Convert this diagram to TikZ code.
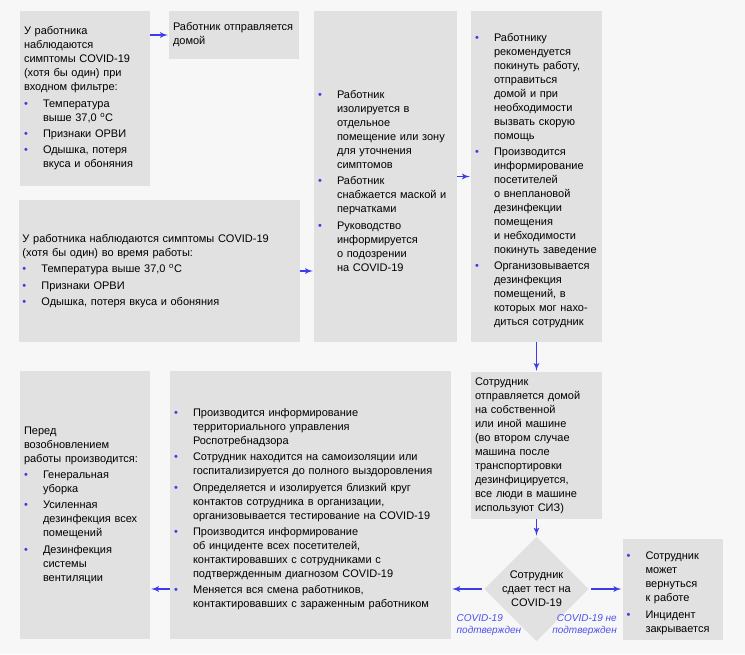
\documentclass[tikz,border=0pt]{standalone}
\usepackage{fontspec}
\setmainfont{Liberation Sans}
\usepackage{tikz}
\usetikzlibrary{shapes,arrows}

\definecolor{boxgray}{HTML}{E1E1E1}
\definecolor{pagegray}{HTML}{F7F7F7}
\definecolor{arrowblue}{HTML}{3C3CEB}
\definecolor{labelblue}{HTML}{5050F0}

\newcommand{\itm}[1]{\par\vspace{2.4pt}\leftskip=19pt\noindent\llap{\makebox[19pt][l]{\textcolor{arrowblue}{\textbullet}}}#1\par}

\begin{document}
\begin{tikzpicture}[
  x=1pt, y=1pt,
  block/.style={rectangle, fill=boxgray, align=left, inner xsep=4pt, inner ysep=2pt, font=\fontsize{11}{14}\selectfont},
  decision/.style={diamond, fill=boxgray, align=center, inner sep=0pt, minimum width=102pt, minimum height=80pt, font=\fontsize{11}{14}\selectfont},
  note/.style={align=left, text=labelblue, inner sep=0pt, font=\fontsize{10}{12.7}\selectfont\itshape},
  line/.style={draw=arrowblue, line width=1.7pt, -latex', shorten >=1pt}
]

\fill[pagegray] (0,0) rectangle (745,-654);
\useasboundingbox (0,0) rectangle (745,-654);

\node [block, text width=122pt, minimum width=130pt, minimum height=175pt] (entry) at (85,-98.5) {%
  У работника\\наблюдаются\\симптомы COVID-19\\(хотя бы один) при\\входном фильтре:
  \itm{Температура\\выше 37,0 \textsuperscript{o}C}
  \itm{Признаки ОРВИ}
  \itm{Одышка, потеря\\вкуса и обоняния}};
\node [block, text width=122pt, minimum width=130pt, minimum height=48pt] (home) at (234,-35) {%
  Работник отправляется\\домой};
\node [block, text width=135pt, minimum width=143pt, minimum height=331pt] (isolate) at (385.5,-176.5) {%
  \itm{Работник\\изолируется в\\отдельное\\помещение или зону\\для уточнения\\симптомов}
  \itm{Работник\\снабжается маской и\\перчатками}
  \itm{Руководство\\информируется\\о подозрении\\на COVID-19}};
\node [block, text width=123pt, minimum width=131pt, minimum height=331pt, right of=isolate, node distance=151pt] (leave) {%
  \itm{Работнику\\рекомендуется\\покинуть работу,\\отправиться\\домой и при\\необходимости\\вызвать скорую\\помощь}
  \itm{Производится\\информирование\\посетителей\\о внеплановой\\дезинфекции\\помещения\\и небходимости\\покинуть заведение}
  \itm{Организовывается\\дезинфекция\\помещений, в\\которых мог нахо-\\диться сотрудник}};
\node [block, text width=273pt, minimum width=281pt, minimum height=142pt] (atwork) at (159,-271) {%
  У работника наблюдаются симптомы COVID-19\\(хотя бы один) во время работы:
  \itm{Температура выше 37,0 \textsuperscript{o}C}
  \itm{Признаки ОРВИ}
  \itm{Одышка, потеря вкуса и обоняния}};
\node [block, text width=123pt, minimum width=131pt, minimum height=147pt, below of=leave, node distance=269pt] (car) {%
  Сотрудник\\отправляется домой\\на собственной\\или иной машине\\(во втором случае\\машина после\\транспортировки\\дезинфицируется,\\все люди в машине\\используют СИЗ)};
\node [decision, below of=car, node distance=143.5pt] (test) {Сотрудник\\сдает тест на\\COVID-19};
\node [block, text width=92pt, minimum width=100pt, minimum height=101pt, right of=test, node distance=136pt] (clear) {%
  \itm{Сотрудник\\может\\вернуться\\к работе}
  \itm{Инцидент\\закрывается}};
\node [block, text width=273pt, minimum width=281pt, minimum height=268pt] (measures) at (310.5,-505) {%
  \itm{Производится информирование\\территориального управления\\Роспотребнадзора}
  \itm{Сотрудник находится на самоизоляции или\\госпитализируется до полного выздоровления}
  \itm{Определяется и изолируется близкий круг\\контактов сотрудника в организации,\\организовывается тестирование на COVID-19}
  \itm{Производится информирование\\об инциденте всех посетителей,\\контактировавших с сотрудниками с\\подтвержденным диагнозом COVID-19}
  \itm{Меняется вся смена работников,\\контактировавших с зараженным работником}};
\node [block, text width=122pt, minimum width=130pt, minimum height=268pt, left of=measures, node distance=225.5pt] (restart) {%
  Перед\\возобновлением\\работы производится:
  \itm{Генеральная\\уборка}
  \itm{Усиленная\\дезинфекция всех\\помещений}
  \itm{Дезинфекция\\системы\\вентиляции}};
\node [note, anchor=north west] (pos) at (456.5,-614) {COVID-19\\подтвержден};
\node [note, anchor=north east, align=right] (neg) at (617,-614) {COVID-19 не\\подтвержден};

\path [line] (entry.east |- home.west) -- (home.west);
\path [line] (atwork.east) -- (atwork.east -| isolate.west);
\path [line] (isolate) -- (leave);
\path [line] (leave) -- (car);
\path [line] (car) -- (test);
\path [line, shorten <=2pt] (test.east) -- (test.east -| clear.west);
\path [line, shorten <=2pt] (test.west) -- (test.west -| measures.east);
\path [line] (measures.west |- test.west) -- (restart.east |- test.west);

\end{tikzpicture}
\end{document}
